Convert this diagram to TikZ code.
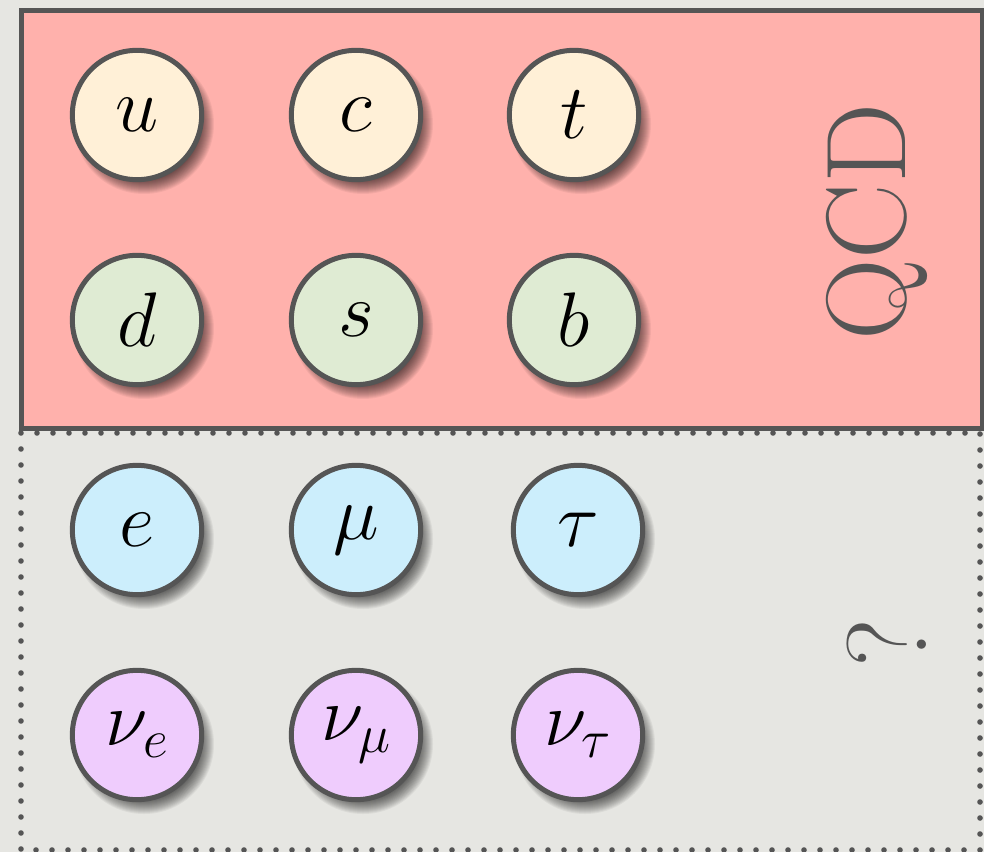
\RequirePackage{fix-cm}
\documentclass[tikz,border=0pt]{standalone}
\definecolor{bg}{HTML}{E6E6E2}
\definecolor{qcdred}{HTML}{FFB1AC}
\definecolor{edge}{HTML}{555555}
\definecolor{upfill}{HTML}{FFF0D7}
\definecolor{downfill}{HTML}{DFEBD3}
\definecolor{lepfill}{HTML}{CCEEFC}
\definecolor{nufill}{HTML}{EFCCFD}
\tikzset{
  particle/.style={circle, draw=edge, line width=3.75pt, minimum size=97pt, inner sep=0pt,
    font=\fontsize{58}{60}\selectfont},
  dotborder/.style={draw=edge, line width=4.2pt, line cap=round, dash pattern=on 0pt off 12pt},
  bigtext/.style={rotate=90, text=edge, font=\fontsize{85}{90}\selectfont, inner sep=0pt},
}
\begin{document}
\begin{tikzpicture}[x=0.75pt,y=-0.75pt]
\useasboundingbox (0,0) rectangle (984,852);
\fill[bg] (0,0) rectangle (984,852);
\fill[qcdred] (21,10.5) rectangle (982,428);
\draw[dotborder] (21,433) rectangle (980,850);
% soft shadows
\foreach \px/\py in {137/115,356/115,574/115,137/320,356/320,574/320,137/530,356/530,578/530,137/735,356/735,578/735}{
  \foreach \i in {0,...,18}{
    \fill[black,opacity=0.05] (\px+7,\py+9) circle ({(52+\i)*0.75pt});
  }
}
\node[particle,fill=upfill] (u) at (137,115) {$u$};
\node[particle,fill=upfill] (c) at (356,115) {$c$};
\node[particle,fill=upfill] (t) at (574,115) {$t$};
\node[particle,fill=downfill] (d) at (137,320) {$d$};
\node[particle,fill=downfill] (s) at (356,320) {$s$};
\node[particle,fill=downfill] (b) at (574,320) {$b$};
\node[particle,fill=lepfill] (e) at (137,530) {$e$};
\node[particle,fill=lepfill] (mu) at (356,530) {$\mu$};
\node[particle,fill=lepfill] (tau) at (578,530) {$\tau$};
\node[particle,fill=nufill] (nue) at (137,735) {$\nu_e$};
\node[particle,fill=nufill] (numu) at (356,735) {$\nu_\mu$};
\node[particle,fill=nufill] (nutau) at (578,735) {$\nu_\tau$};
\draw[edge, line width=3.75pt] (21,10.5) rectangle (982,428);
\node[bigtext] (qcd) at (877,222) {QCD};
\node[bigtext] (qm) at (887,643) {?};
\end{tikzpicture}
\end{document}
